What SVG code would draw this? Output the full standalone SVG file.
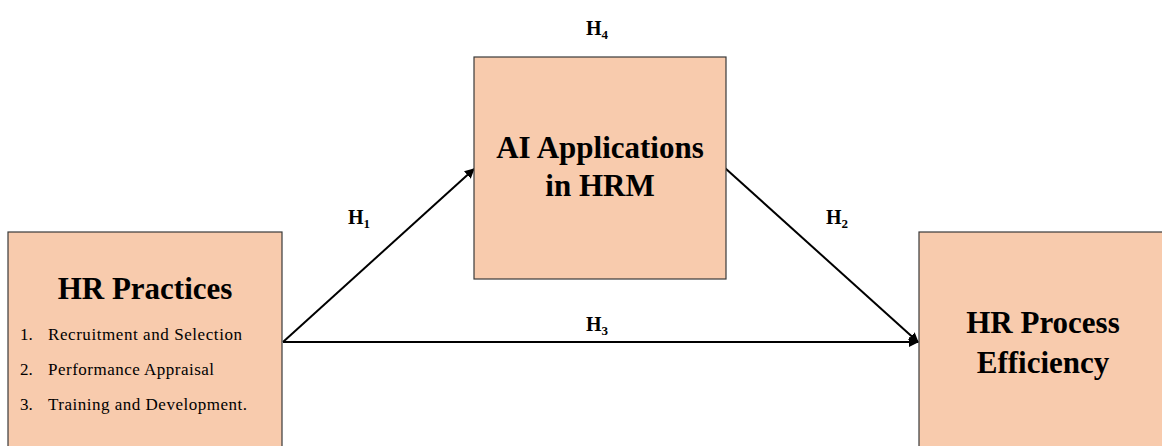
<svg xmlns="http://www.w3.org/2000/svg" width="1162" height="446" viewBox="0 0 1162 446">
<style>
.box{fill:#F8CBAD;stroke:#3a3a3a;stroke-width:1.2}
.title{font-family:"Liberation Serif","Times New Roman",serif;font-weight:bold;font-size:31px;fill:#000;text-anchor:middle}
.item{font-family:"Liberation Serif","Times New Roman",serif;font-size:17px;fill:#000}
.h{font-family:"Liberation Serif","Times New Roman",serif;font-weight:bold;font-size:20px;fill:#000}
.sub{font-size:13px}
.conn{stroke:#000;stroke-width:2;fill:none;marker-end:url(#arr)}
</style>
<defs>
<marker id="arr" viewBox="0 0 10 10" refX="9" refY="5" markerWidth="5" markerHeight="5" orient="auto" markerUnits="strokeWidth">
<path d="M0,0 L10,5 L0,10 Z" fill="#000"/>
</marker>
</defs>
<g id="connectors">
<line class="conn" x1="283" y1="342" x2="474" y2="169"/>
<line class="conn" x1="725" y1="168" x2="918" y2="342"/>
<line class="conn" x1="283" y1="342" x2="918" y2="342"/>
</g>
<g id="node-hr-practices">
<rect class="box" x="8" y="232" width="274" height="230"/>
<text class="title" x="145" y="299">HR Practices</text>
<text class="item" x="20" y="340">1.</text><text class="item" x="48" y="340" textLength="194" lengthAdjust="spacing">Recruitment  and Selection</text>
<text class="item" x="20" y="375">2.</text><text class="item" x="48" y="375" textLength="166" lengthAdjust="spacing">Performance  Appraisal</text>
<text class="item" x="20" y="410">3.</text><text class="item" x="48" y="410" textLength="199" lengthAdjust="spacing">Training  and Development.</text>
</g>
<g id="node-ai">
<rect class="box" x="474" y="57" width="252" height="222"/>
<text class="title" x="600" y="158">AI Applications</text>
<text class="title" x="600" y="196">in HRM</text>
</g>
<g id="node-efficiency">
<rect class="box" x="919" y="232" width="250" height="230"/>
<text class="title" x="1043" y="333">HR Process</text>
<text class="title" x="1043" y="373">Efficiency</text>
</g>
<g id="labels">
<text class="h" x="586" y="35">H<tspan class="sub" dy="4">4</tspan></text>
<text class="h" x="348" y="224">H<tspan class="sub" dy="4">1</tspan></text>
<text class="h" x="826" y="224">H<tspan class="sub" dy="4">2</tspan></text>
<text class="h" x="586" y="331">H<tspan class="sub" dy="4">3</tspan></text>
</g>
</svg>
